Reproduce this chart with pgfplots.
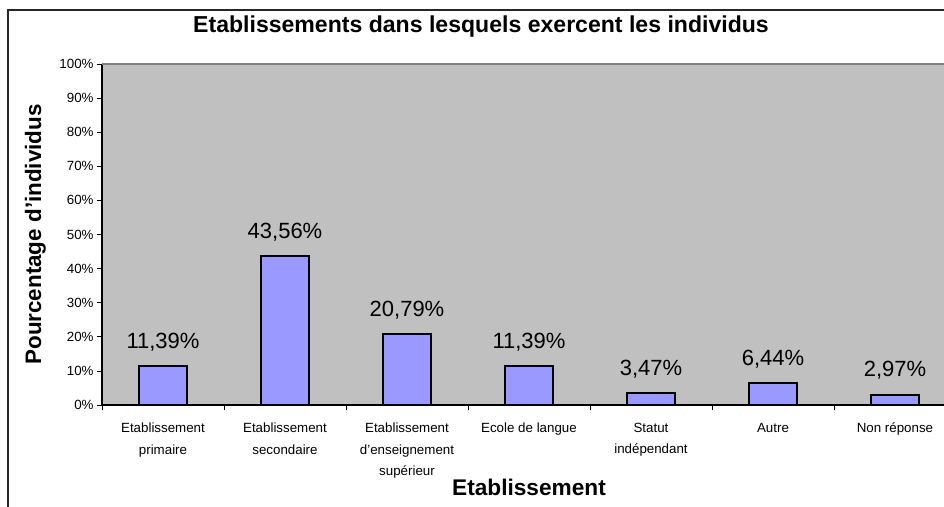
\documentclass[border=0pt]{standalone}
\usepackage{fontspec}
\setmainfont{Liberation Sans}
\usepackage{pgfplots}
\pgfplotsset{compat=1.18}
\definecolor{plotgray}{HTML}{C0C0C0}
\definecolor{barblue}{HTML}{9999FF}

\begin{document}
\begin{tikzpicture}
% page = 944x506 px at 0.75pt/px, origin at the lower left corner of the plot area
\path[use as bounding box] (-76.5pt,-75.75pt) rectangle (631.5pt,303.75pt);
\clip (-76.5pt,-75.75pt) rectangle (631.5pt,303.75pt);
\begin{axis}[
  at={(0,0)}, anchor=south west,
  scale only axis, width=640.5pt, height=255.75pt,
  xmin=-0.5, xmax=6.5, ymin=0, ymax=100,
  clip=false,
  axis background/.style={fill=plotgray},
  axis x line*=bottom, axis y line*=left,
  axis line style={black, line width=0.8pt},
  /pgf/number format/assume math mode=true,
  tick align=outside,
  major tick length=4pt, minor tick length=4pt,
  tick style={black, line width=0.6pt},
  ytick={0,10,...,100},
  yticklabel={\pgfmathprintnumber{\tick}\%},
  y tick label style={font=\fontsize{10}{10}\selectfont, xshift=1.2pt},
  xtick={0,1,2,3,4,5,6},
  xticklabels={Etablissement\\primaire, Etablissement\\secondaire, Etablissement\\d'enseignement\\supérieur, Ecole de langue, Statut\\indépendant, Autre, Non réponse},
  major x tick style={draw=none},
  minor xtick={-0.5,0.5,1.5,2.5,3.5,4.5,5.5,6.5},
  x tick label style={font=\fontsize{10}{16.2}\selectfont, align=center, anchor=north, yshift=-6pt},
  ybar, bar width=0.4,
  xlabel={Etablissement},
  xlabel style={at={(axis description cs:0.5,-0.264)}, anchor=base, font=\bfseries\fontsize{17}{17}\selectfont},
  ylabel={Pourcentage d'individus},
  ylabel style={at={(axis description cs:-0.0714,0.5)}, anchor=base, font=\bfseries\fontsize{16.8}{16.8}\selectfont},
  title={Etablissements dans lesquels exercent les individus},
  title style={at={(axis description cs:0.4438,1.091)}, anchor=base, yshift=-6pt, font=\bfseries\fontsize{17.3}{17.3}\selectfont},
  nodes near coords={\pgfmathprintnumber[fixed,fixed zerofill,precision=2,use comma]{\pgfplotspointmeta}\%},
  every node near coord/.append style={font=\fontsize{16.5}{16.5}\selectfont, anchor=base, yshift=13.5pt, inner sep=0pt, black},
]
\addplot[fill=barblue, draw=black, line width=1.5pt] coordinates {
(0,11.39) (1,43.56) (2,20.79) (3,11.39) (4,3.47) (5,6.44) (6,2.97)};
\draw[draw=black!50, line width=1pt] (rel axis cs:0,1) -- (rel axis cs:1,1);
\end{axis}
\draw[line width=1pt, black!85] (-70.5pt,-80pt) -- (-70.5pt,296.25pt) -- (640pt,296.25pt);
\end{tikzpicture}
\end{document}
